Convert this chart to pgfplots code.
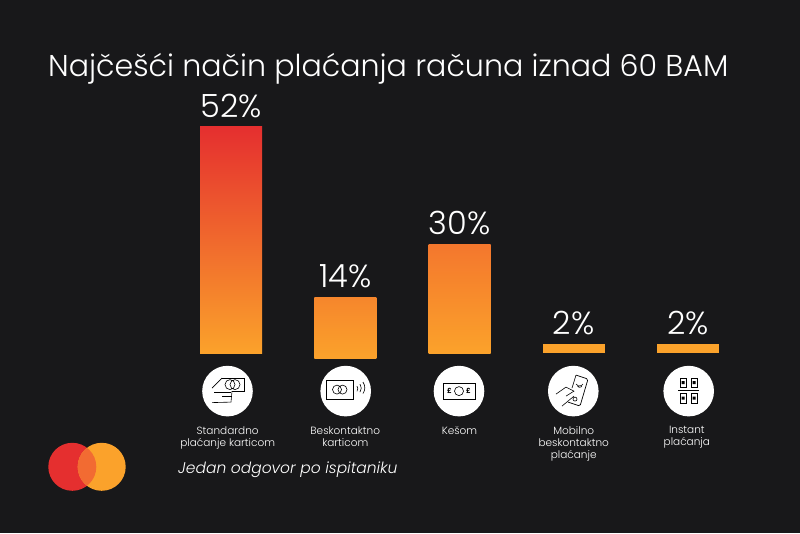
\documentclass[border=0pt]{standalone}
\usepackage{pgfplots}
\pgfplotsset{compat=1.18}
\usepackage{fontspec}
\setmainfont{Poppins}
\newfontfamily\lightfont{Poppins Light}
\definecolor{bg}{HTML}{18181A}
\definecolor{mcred}{HTML}{E52F2F}
\definecolor{mcorange}{HTML}{FBA22B}
\definecolor{mcmid}{HTML}{F26B32}
\definecolor{topB}{HTML}{F6862C}
\definecolor{topC}{HTML}{F4772D}
\begin{document}
\begin{tikzpicture}[x=1pt,y=1pt]
\fill[bg] (0,0) rectangle (800,533);
\begin{axis}[
  at={(0pt,0pt)},anchor=south west,
  scale only axis,width=800pt,height=533pt,
  xmin=-2.0219,xmax=4.9803,ymin=-41.38,ymax=81.15,
  axis line style={draw=none},
  major tick length=0pt,
  ytick=\empty,
  xtick={-0.029,1,2,3,3.99},
  xticklabels={{Standardno\\plaćanje karticom},{Beskontaktno\\karticom},{Kešom},{Mobilno\\beskontaktno\\plaćanje},{Instant\\plaćanja}},
  xticklabel style={yshift=110pt,anchor=north,align=center,text=white,font=\fontsize{10.5}{12}\selectfont\lightfont},
  ybar,bar width=62pt,bar shift=0pt,
  clip=false,
  point meta=explicit,
  nodes near coords={\pgfmathprintnumber[assume math mode=true]{\pgfplotspointmeta}\%},
  every node near coord/.append style={text=white,font=\fontsize{32}{34}\selectfont\lightfont,anchor=south,inner sep=0pt,yshift=9pt},
]
\addplot[draw=none,top color=mcred,bottom color=mcorange] coordinates {(0,52) [52]};
\addplot[draw=none,top color=topB,bottom color=mcorange,yshift=-5pt] coordinates {(1,14) [14]};
% the reference draws the 30% bar only about 25 units tall; height kept as drawn, label as printed
\addplot[draw=none,top color=topC,bottom color=mcorange] coordinates {(2,25) [30]};
\addplot[draw=none,fill=mcorange] coordinates {(3,2) [2]};
\addplot[draw=none,fill=mcorange] coordinates {(4,2) [2]};
\end{axis}
\begin{scope}[yshift=533pt,y=-1pt]
\node[anchor=base west,text=white,inner sep=0pt,font=\fontsize{30.1}{34}\selectfont\lightfont] at (48,76.5) {Najčešći način plaćanja računa iznad 60 BAM};
\node[anchor=base west,text=white,inner sep=0pt,font=\fontsize{15.5}{18}\selectfont\lightfont\itshape] at (178,473) {Jedan odgovor po ispitaniku};
% logo
\fill[mcred] (72.3,466.7) circle (24);
\fill[mcorange] (101.7,466.7) circle (24);
\begin{scope}
\clip (72.3,466.7) circle (24);
\fill[mcmid] (101.7,466.7) circle (24);
\end{scope}
% icon discs
\foreach \x in {227.5,345.7,459,573.3,688.7} \fill[white] (\x,391) circle (25.3);
\begin{scope}[black,line width=0.6pt]
% card in hand
\draw (222,378) -- (244,378) -- (244,391) -- (232,391);
\draw (222,378) -- (212,388);
\draw (230,384.5) circle (5) (235,384.5) circle (5);
\draw (232,391) -- (231,402) -- (212,402.5);
\draw (214,392) -- (231,392) (222,396.5) -- (231,396.5) ;
% contactless card
\draw[line width=0.8pt] (326.5,380) rectangle (353,399);
\draw (337,389.5) circle (4.5) (342.5,389.5) circle (4.5);
\draw (357,386) arc (-35:35:4.5) (360,384) arc (-35:35:7) (363,382) arc (-35:35:10);
% cash
\draw[line width=0.8pt] (443,383) rectangle (475,399);
\draw (459,391) circle (4.5);
\node[inner sep=0pt,font=\fontsize{7}{7}\selectfont\bfseries] at (449.5,391) {£};
\node[inner sep=0pt,font=\fontsize{7}{7}\selectfont\bfseries] at (468.5,391) {£};
% phone
\draw[rounded corners=1.5pt,line width=0.7pt] (576,375) -- (588,379) -- (580,406) -- (568,402);
\draw (576,375) -- (572,388);
\draw (576,384) arc (150:30:4) (577.5,386) arc (150:30:2.5);
\draw (556,394) -- (566,387) -- (574,391) -- (566,396);
\draw (562,406) -- (574,396);
\draw (575,399) circle (2);
% QR
\draw[line width=0.8pt] (680,378) rectangle (686,387) (691,378) rectangle (697,387) (680,393) rectangle (686,403) (691,393) rectangle (697,403);
\draw[line width=0.8pt] (678,390) -- (699,390);
\fill (681.5,381) rectangle (684.5,384) (692.5,381) rectangle (695.5,384) (681.5,396.5) rectangle (684.5,399.5) (692.5,396.5) rectangle (695.5,399.5);
\end{scope}
\end{scope}
\end{tikzpicture}
\end{document}
